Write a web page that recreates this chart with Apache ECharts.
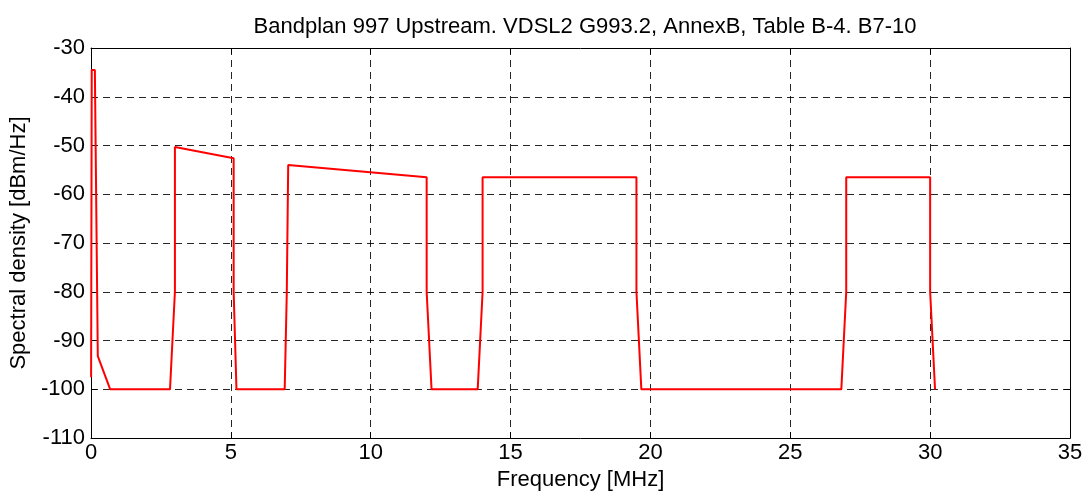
<!DOCTYPE html>
<html>
<head>
<meta charset="utf-8">
<script src="https://cdn.jsdelivr.net/npm/echarts@6/dist/echarts.min.js"></script>
<style>
html,body{margin:0;padding:0;background:#fff;}
#chart{width:1090px;height:496px;}
</style>
</head>
<body>
<div id="chart"></div>
<script>
const titleText = 'Bandplan 997 Upstream. VDSL2 G993.2, AnnexB, Table B-4. B7-10';
const xName = 'Frequency [MHz]';
const yName = 'Spectral density [dBm/Hz]';
const freqMHz = [0.004, 0.026, 0.138, 0.243, 0.686, 2.825, 3.0, 3.0, 5.1, 5.1, 5.2, 6.925, 7.0, 7.05, 12.0, 12.0, 12.175, 13.825, 14.0, 14.0, 19.5, 19.5, 19.675, 26.825, 27.0, 27.0, 30.0, 30.0, 30.175];
const psd = [-97.5, -34.5, -34.5, -93.2, -100, -100, -80, -50.3, -52.6, -80, -100, -100, -80, -54.0, -56.5, -80, -100, -100, -80, -56.5, -56.5, -80, -100, -100, -80, -56.5, -56.5, -80, -100];
const xTicks = [0, 5, 10, 15, 20, 25, 30, 35];
const yTicks = [-110, -100, -90, -80, -70, -60, -50, -40, -30];

const font = '"Liberation Sans", Arial, sans-serif';
const fs = 22;
const chart = echarts.init(document.getElementById('chart'));
const gridLine = {show: true, lineStyle: {color: '#000', width: 1, type: [7, 5], opacity: 0.85}};
const axisLineStyle = {show: true, onZero: false, lineStyle: {color: '#000', width: 1}};
const tick = {show: true, inside: true, length: 6, lineStyle: {color: '#000'}};
chart.setOption({
  backgroundColor: '#fff',
  animation: false,
  title: {
    text: titleText,
    left: 580,
    textAlign: 'center',
    top: 10,
    textStyle: {fontFamily: font, fontSize: fs, fontWeight: 'normal', color: '#000', lineHeight: 24}
  },
  grid: {left: 91, right: 20, top: 48, bottom: 57},
  xAxis: [{
    type: 'value', min: xTicks[0], max: xTicks[xTicks.length - 1], interval: 5,
    name: xName, nameLocation: 'middle', nameGap: 30,
    nameTextStyle: {fontFamily: font, fontSize: fs, color: '#000'},
    axisLine: axisLineStyle, axisTick: tick,
    axisLabel: {fontFamily: font, fontSize: fs, color: '#000', margin: 4},
    splitLine: gridLine
  }, {
    type: 'value', position: 'top', min: xTicks[0], max: xTicks[xTicks.length - 1], interval: 5,
    axisLine: axisLineStyle, axisTick: tick,
    axisLabel: {show: false}, splitLine: {show: false}
  }],
  yAxis: [{
    type: 'value', min: yTicks[0], max: yTicks[yTicks.length - 1], interval: 10,
    name: yName, nameLocation: 'middle', nameGap: 60, nameRotate: 90,
    nameTextStyle: {fontFamily: font, fontSize: fs, color: '#000'},
    axisLine: axisLineStyle, axisTick: tick,
    axisLabel: {fontFamily: font, fontSize: fs, color: '#000', margin: 6},
    splitLine: gridLine
  }, {
    type: 'value', position: 'right', min: yTicks[0], max: yTicks[yTicks.length - 1], interval: 10,
    axisLine: axisLineStyle, axisTick: tick,
    axisLabel: {show: false}, splitLine: {show: false}
  }],
  series: [{
    type: 'line',
    data: freqMHz.map((f, i) => [f, psd[i]]),
    showSymbol: false,
    lineStyle: {color: '#ff0000', width: 2},
    itemStyle: {color: '#ff0000'}
  }]
});
</script>
</body>
</html>
